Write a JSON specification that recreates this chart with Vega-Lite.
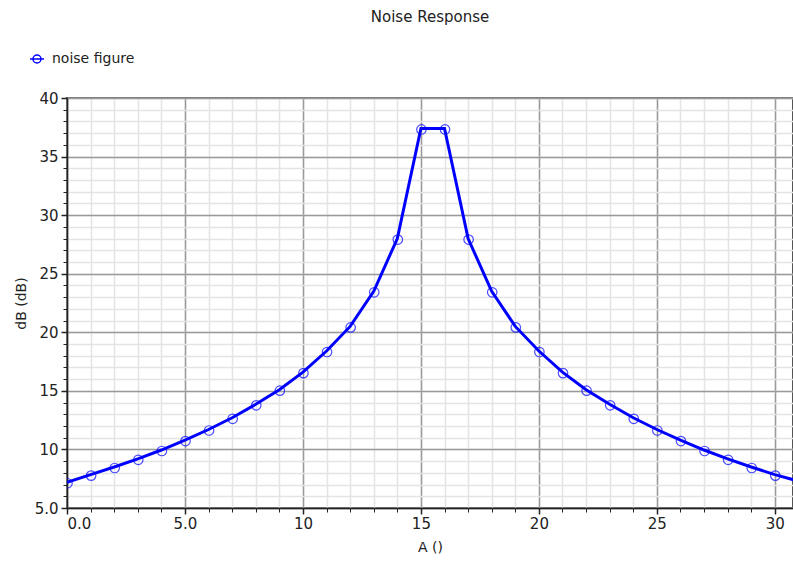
{
  "$schema": "https://vega.github.io/schema/vega-lite/v6.json",
  "width": 726,
  "height": 410,
  "autosize": {"type": "none"},
  "padding": {"left": 67, "top": 98, "right": 0, "bottom": 54},
  "background": "white",
  "config": {
    "font": "DejaVu Sans",
    "view": {"stroke": "#555555", "strokeWidth": 2},
    "axis": {"labelFont": "DejaVu Sans", "titleFont": "DejaVu Sans", "labelColor": "#222222", "titleColor": "#222222", "titleFontWeight": "normal", "labelFontSize": 15, "titleFontSize": 14}
  },
  "title": {"text": "Noise Response", "font": "DejaVu Sans", "fontSize": 15, "fontWeight": "normal", "color": "#222222", "anchor": "middle", "frame": "group", "offset": 26},
  "data": {"values": [
    {"A": 0, "dB": 7.2}, {"A": 1, "dB": 7.85}, {"A": 2, "dB": 8.5}, {"A": 3, "dB": 9.2},
    {"A": 4, "dB": 9.95}, {"A": 5, "dB": 10.8}, {"A": 6, "dB": 11.7}, {"A": 7, "dB": 12.7},
    {"A": 8, "dB": 13.85}, {"A": 9, "dB": 15.1}, {"A": 10, "dB": 16.6}, {"A": 11, "dB": 18.4},
    {"A": 12, "dB": 20.5}, {"A": 13, "dB": 23.5}, {"A": 14, "dB": 28.0}, {"A": 15, "dB": 37.4},
    {"A": 16, "dB": 37.4}, {"A": 17, "dB": 28.0}, {"A": 18, "dB": 23.5}, {"A": 19, "dB": 20.5},
    {"A": 20, "dB": 18.4}, {"A": 21, "dB": 16.6}, {"A": 22, "dB": 15.1}, {"A": 23, "dB": 13.85},
    {"A": 24, "dB": 12.7}, {"A": 25, "dB": 11.7}, {"A": 26, "dB": 10.8}, {"A": 27, "dB": 9.95},
    {"A": 28, "dB": 9.2}, {"A": 29, "dB": 8.5}, {"A": 30, "dB": 7.85}, {"A": 31, "dB": 7.3}
  ]},
  "layer": [
    {
      "mark": {"type": "line", "strokeOpacity": 0, "clip": true},
      "encoding": {
        "x": {"field": "A", "type": "quantitative", "scale": {"domain": [0, 30.77], "nice": false, "zero": false},
          "axis": {"orient": "bottom", "values": [0,1,2,3,4,5,6,7,8,9,10,11,12,13,14,15,16,17,18,19,20,21,22,23,24,25,26,27,28,29,30],
            "grid": true, "gridColor": "#e4e4e4", "gridWidth": 1.5, "labels": false, "domain": false, "ticks": true, "tickSize": 4, "tickColor": "#222222", "title": null}},
        "y": {"field": "dB", "type": "quantitative", "scale": {"domain": [5, 40], "nice": false, "zero": false},
          "axis": {"orient": "left", "values": [5,6,7,8,9,10,11,12,13,14,15,16,17,18,19,20,21,22,23,24,25,26,27,28,29,30,31,32,33,34,35,36,37,38,39,40],
            "grid": true, "gridColor": "#e4e4e4", "gridWidth": 1.5, "labels": false, "domain": false, "ticks": true, "tickSize": 4, "tickColor": "#222222", "title": null}}
      }
    },
    {
      "mark": {"type": "line", "strokeWidth": 3, "clip": true},
      "encoding": {
        "x": {"field": "A", "type": "quantitative",
          "axis": {"orient": "bottom", "values": [0, 5, 10, 15, 20, 25, 30], "grid": true, "gridColor": "#9a9a9a", "gridWidth": 1.5,
            "domainColor": "#222222", "domainWidth": 1.5, "tickColor": "#222222", "tickWidth": 1.5, "tickSize": 6, "labelPadding": 2,
            "labelExpr": "datum.value < 10 ? format(datum.value, '.1f') : format(datum.value, 'd')",
            "title": "A ()", "titlePadding": 9}},
        "y": {"field": "dB", "type": "quantitative",
          "axis": {"orient": "left", "values": [5, 10, 15, 20, 25, 30, 35, 40], "grid": true, "gridColor": "#9a9a9a", "gridWidth": 1.5,
            "domainColor": "#222222", "domainWidth": 1.5, "tickColor": "#222222", "tickWidth": 1.5, "tickSize": 6, "labelPadding": 3,
            "labelExpr": "datum.value < 10 ? format(datum.value, '.1f') : format(datum.value, 'd')",
            "title": "dB (dB)", "titlePadding": 6}},
        "color": {"datum": "noise figure", "type": "nominal", "scale": {"range": ["#0000ff"]},
          "legend": {"title": null, "orient": "none", "legendX": -38, "legendY": -47,
            "symbolType": "M-1,0H1M-0.57,0A0.57,0.57,0,1,1,0.57,0A0.57,0.57,0,1,1,-0.57,0",
            "symbolSize": 196, "symbolStrokeWidth": 1.5, "symbolFillColor": "transparent", "symbolStrokeColor": "#0000ff",
            "labelFont": "DejaVu Sans", "labelFontSize": 14, "labelColor": "#222222", "labelOffset": 7}}
      }
    },
    {
      "mark": {"type": "point", "shape": "circle", "filled": false, "stroke": "#0000ff", "strokeWidth": 1.2, "size": 90, "clip": true, "xOffset": 0.5, "yOffset": 1},
      "encoding": {
        "x": {"field": "A", "type": "quantitative", "axis": null},
        "y": {"field": "dB", "type": "quantitative", "axis": null}
      }
    }
  ],
  "resolve": {"axis": {"x": "independent", "y": "independent"}}
}
